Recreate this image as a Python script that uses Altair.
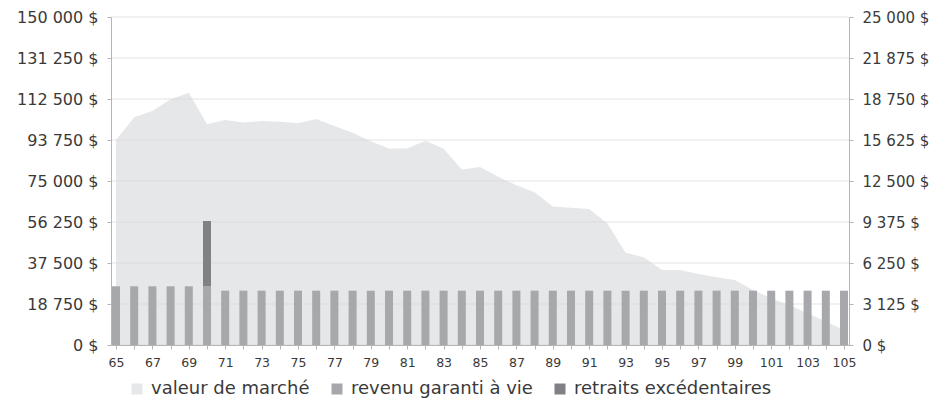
import altair as alt
import pandas as pd

# ---- data ----
years = [65, 66, 67, 68, 69, 70, 71, 72, 73, 74, 75, 76, 77, 78, 79, 80, 81, 82, 83, 84,
         85, 86, 87, 88, 89, 90, 91, 92, 93, 94, 95, 96, 97, 98, 99, 100, 101, 102, 103, 104, 105]

market_value = [93750, 104100, 107000, 112400, 115400, 100900, 102900, 101700, 102400, 102100,
                101400, 103400, 100200, 97100, 93200, 89900, 89900, 93400, 89800, 80300,
                81400, 77000, 73000, 69800, 63300, 62800, 62200, 55600, 42200, 40100,
                34300, 34300, 32500, 31000, 29700, 25200, 21400, 18300, 14500, 10700, 6900]

guaranteed_income = [4475, 4475, 4475, 4475, 4475, 4475, 4140, 4140, 4140, 4140,
                     4140, 4140, 4140, 4140, 4140, 4140, 4140, 4140, 4140, 4140,
                     4140, 4140, 4140, 4140, 4140, 4140, 4140, 4140, 4140, 4140,
                     4140, 4140, 4140, 4140, 4140, 4140, 4140, 4140, 4140, 4140, 4140]

excess_years = [70]
excess_values = [4975]

series_names = ["valeur de marché", "revenu garanti à vie", "retraits excédentaires"]
series_colors = ["#e6e7e9", "#a7a8ab", "#808184"]

left_ticks = [0, 18750, 37500, 56250, 75000, 93750, 112500, 131250, 150000]
right_ticks = [0, 3125, 6250, 9375, 12500, 15625, 18750, 21875, 25000]

# ---- tables ----
area_df = pd.DataFrame({"annee": years, "montant": market_value, "serie": series_names[0]})
bars_df = pd.concat([
    pd.DataFrame({"annee": years, "montant": guaranteed_income, "serie": series_names[1], "rang": 0}),
    pd.DataFrame({"annee": excess_years, "montant": excess_values, "serie": series_names[2], "rang": 1}),
], ignore_index=True)
grid_df = pd.DataFrame({"g": left_ticks})

FONT = "DejaVu Sans"
TXT = "#3a3a3a"
AX = "#b5b5b5"
money = "replace(format(datum.value, ',d'), regexp(',', 'g'), ' ') + ' $'"

color_scale = alt.Scale(domain=series_names, range=series_colors)
legend = alt.Legend(
    orient="none", legendX=17, legendY=363, direction="horizontal", title=None,
    symbolType="square", symbolSize=121, symbolStrokeWidth=0, symbolOpacity=1,
    labelFontSize=18, labelFont=FONT, labelColor=TXT, columnPadding=18,
    labelOffset=5, padding=0, labelLimit=400,
)

x_axis = alt.Axis(
    values=years, labelExpr="datum.value % 2 == 1 ? datum.label : ''",
    tickSize=4, labelPadding=7, labelFontSize=12.5, labelFont=FONT, labelColor=TXT,
    labelFlush=False, labelOverlap=False, grid=False, domainColor=AX, tickColor=AX,
    title=None, zindex=1,
)
x_scale = alt.Scale(domain=[65, 105], nice=False, zero=False)

area = alt.Chart(area_df).mark_area(opacity=1, clip=True).encode(
    x=alt.X("annee:Q", scale=x_scale, axis=x_axis),
    y=alt.Y(
        "montant:Q",
        scale=alt.Scale(domain=[0, 150000], nice=False),
        axis=alt.Axis(
            orient="left", values=left_ticks, labelExpr=money, tickSize=4, labelPadding=9,
            labelFontSize=16, labelFont=FONT, labelColor=TXT, labelFlush=False,
            labelOverlap=False, grid=False, domainColor=AX, tickColor=AX, title=None, zindex=1,
        ),
    ),
    color=alt.Color("serie:N", scale=color_scale, legend=legend),
)

grid = alt.Chart(grid_df).mark_rule(color="#d8d8d8", opacity=0.72, strokeWidth=1).encode(
    y=alt.Y("g:Q", scale=alt.Scale(domain=[0, 150000], nice=False), axis=None),
)

bars = alt.Chart(bars_df).mark_bar(size=8, clip=True, opacity=1).encode(
    x=alt.X("annee:Q", scale=x_scale, axis=x_axis),
    y=alt.Y(
        "montant:Q", stack="zero",
        scale=alt.Scale(domain=[0, 25000], nice=False),
        axis=alt.Axis(
            orient="right", values=right_ticks, labelExpr=money, tickSize=4, labelPadding=9,
            labelFontSize=15, labelFont=FONT, labelColor=TXT, labelFlush=False,
            labelOverlap=False, grid=False, domainColor=AX, tickColor=AX, title=None, zindex=1,
        ),
    ),
    color=alt.Color("serie:N", scale=color_scale, legend=legend),
    order=alt.Order("rang:Q"),
)

chart = (
    alt.layer(area, grid, bars)
    .resolve_scale(y="independent")
    .properties(
        width=738, height=328,
        autosize=alt.AutoSizeParams(type="none"),
        padding={"left": 103, "top": 9, "right": 83, "bottom": 56},
    )
    .configure(font=FONT)
    .configure_view(stroke=None)
)

chart.save("out.html", embed_options={"renderer": "svg", "actions": False})
